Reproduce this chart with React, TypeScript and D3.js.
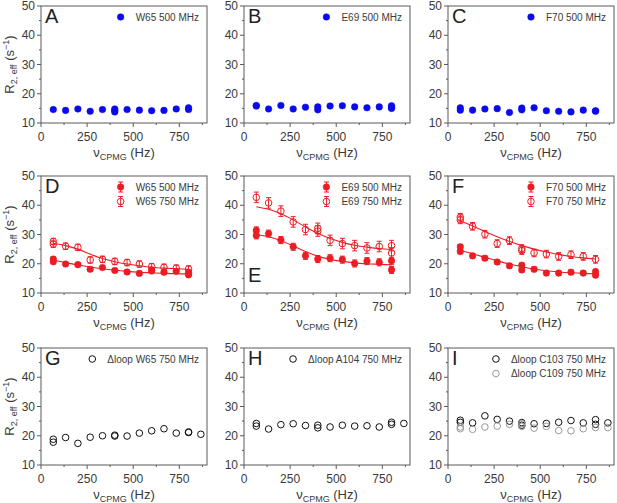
import React, { useEffect, useRef } from 'react';
import * as d3 from 'd3';

// CPMG frequencies (Hz)
const NU = [66.7, 133.3, 200, 266.7, 333.3, 400, 466.7, 533.3, 600, 666.7, 733.3, 800];
const NU_LOOP = [...NU, 866.7];

// repeated measurements are given as arrays
type Val = number | number[];

// top row, 500 MHz blue
const A_W65: Val[] = [14.6, 14.3, 14.8, 14.0, 14.6, [14.8, 13.8, 14.3], 14.6, 14.4, 14.2, 14.3, 14.8, [15.2, 14.6]];
const B_E69: Val[] = [[16.0, 15.8], 14.8, 16.0, 14.8, 15.4, [15.5, 14.5], 15.8, 15.9, 15.5, 15.2, 15.5, [15.9, 15.0, 15.4]];
const C_F70: Val[] = [[15.2, 14.4], 14.4, 14.8, 14.9, 13.6, [15.1, 14.5], 15.2, 14.2, 14.0, 13.8, 14.4, [14.0, 14.2]];

// middle row, red
const D_W65_500: Val[] = [[21.6, 20.7], 19.9, 19.7, 18.1, 18.7, 17.7, 17.2, 16.7, [17.9, 17.5], 17.1, 17.4, [17.1, 16.2, 16.6]];
const D_W65_750: Val[] = [[27.6, 26.7], 26.0, 25.6, 21.3, 21.5, 20.8, 20.4, 19.9, 19.0, 18.8, 18.5, 18.2];
const E_E69_500: Val[] = [[31.4, 29.7], 30.3, 28.1, 25.8, 22.7, 21.6, 21.9, 21.4, 20.1, 20.9, 20.5, [21.0, 17.9]];
const E_E69_750: Val[] = [42.7, 40.8, 38.0, 34.3, 31.7, [32.1, 31.2], 28.0, 26.9, 26.2, 25.4, 25.9, [26.2, 23.7]];
const F_F70_500: Val[] = [[25.8, 24.2], 22.7, 21.9, 20.6, 19.3, [19.5, 17.9], 18.1, 16.8, 16.8, 17.1, 16.8, [17.3, 16.1]];
const F_F70_750: Val[] = [[35.9, 35.0], 32.8, 30.1, 26.9, 27.9, [25.2, 24.5], 23.7, 23.3, 22.5, 23.1, 22.5, 21.5];

// fitted dispersion curves, read at NU
const D_FIT_500 = [21.2, 20.4, 19.6, 18.9, 18.3, 17.8, 17.4, 17.1, 16.9, 16.7, 16.6, 16.5];
const D_FIT_750 = [27.0, 26.2, 25.0, 23.3, 21.8, 20.7, 19.9, 19.3, 18.8, 18.5, 18.3, 18.1];
const E_FIT_500 = [30.0, 29.2, 27.9, 26.1, 24.2, 22.6, 21.5, 20.8, 20.3, 20.0, 19.8, 19.6];
const E_FIT_750 = [39.5, 38.6, 37.1, 35.0, 32.6, 30.4, 28.6, 27.3, 26.3, 25.7, 25.2, 24.9];
const F_FIT_500 = [24.5, 23.4, 22.2, 21.0, 19.9, 19.0, 18.2, 17.6, 17.2, 16.9, 16.7, 16.6];
const F_FIT_750 = [34.6, 32.9, 31.0, 29.2, 27.6, 26.2, 25.0, 24.0, 23.2, 22.5, 22.0, 21.6];

// error bar half-widths per series (s^-1)
const ERR_500 = [0.7, 1.2, 0.8];
const ERR_750 = [1.1, 1.8, 1.3];

// bottom row, delta-loop 750 MHz
const G_W65: Val[] = [[18.8, 17.8], 19.4, 17.4, 19.5, 20.0, [20.2, 19.9], 19.9, 20.9, 21.7, 22.4, 20.9, [21.3, 21.1], 20.5];
const H_A104: Val[] = [[24.2, 23.3], 22.3, 23.8, 24.1, 23.5, [23.6, 22.7], 23.0, 23.6, 23.3, 23.4, 23.0, [24.6, 23.9], 24.2];
const I_C103: Val[] = [[25.3, 24.6], 24.4, 26.8, 25.6, 25.0, [24.5, 23.6], 24.1, 24.2, 24.6, 25.2, 24.4, [25.5, 23.9], 24.4];
const I_C109: Val[] = [[23.0, 22.4], 22.2, 23.0, 23.3, 23.9, [24.1, 23.2], 22.6, 23.2, 21.8, 21.7, 22.4, 22.8, 22.8];

const X_TICKS = [0, 250, 500, 750];
const Y_TICKS = [10, 20, 30, 40, 50];

const BLUE = '#0a0aeb';
const RED = '#ec1c24';
const BLACK = '#111';
const GRAY = '#999';
const TEXT = '#3a3a3a';
const FRAME = '#5a5a5a';
const FONT = '"Liberation Sans", Arial, Helvetica, sans-serif';

type Series = {
  label: string;
  xs: number[];
  ys: Val[];
  color: string;
  filled: boolean;
  err?: number;
  fit?: number[];
};

type Panel = { letter: string; letterBottom?: boolean; series: Series[] };

const PANELS: Panel[] = [
  { letter: 'A', series: [{ label: 'W65 500 MHz', xs: NU, ys: A_W65, color: BLUE, filled: true }] },
  { letter: 'B', series: [{ label: 'E69 500 MHz', xs: NU, ys: B_E69, color: BLUE, filled: true }] },
  { letter: 'C', series: [{ label: 'F70 500 MHz', xs: NU, ys: C_F70, color: BLUE, filled: true }] },
  {
    letter: 'D',
    series: [
      { label: 'W65 500 MHz', xs: NU, ys: D_W65_500, color: RED, filled: true, err: ERR_500[0], fit: D_FIT_500 },
      { label: 'W65 750 MHz', xs: NU, ys: D_W65_750, color: RED, filled: false, err: ERR_750[0], fit: D_FIT_750 },
    ],
  },
  {
    letter: 'E',
    letterBottom: true,
    series: [
      { label: 'E69 500 MHz', xs: NU, ys: E_E69_500, color: RED, filled: true, err: ERR_500[1], fit: E_FIT_500 },
      { label: 'E69 750 MHz', xs: NU, ys: E_E69_750, color: RED, filled: false, err: ERR_750[1], fit: E_FIT_750 },
    ],
  },
  {
    letter: 'F',
    series: [
      { label: 'F70 500 MHz', xs: NU, ys: F_F70_500, color: RED, filled: true, err: ERR_500[2], fit: F_FIT_500 },
      { label: 'F70 750 MHz', xs: NU, ys: F_F70_750, color: RED, filled: false, err: ERR_750[2], fit: F_FIT_750 },
    ],
  },
  { letter: 'G', series: [{ label: '\u0394loop W65 750 MHz', xs: NU_LOOP, ys: G_W65, color: BLACK, filled: false }] },
  { letter: 'H', series: [{ label: '\u0394loop A104 750 MHz', xs: NU_LOOP, ys: H_A104, color: BLACK, filled: false }] },
  {
    letter: 'I',
    series: [
      { label: '\u0394loop C103 750 MHz', xs: NU_LOOP, ys: I_C103, color: BLACK, filled: false },
      { label: '\u0394loop C109 750 MHz', xs: NU_LOOP, ys: I_C109, color: GRAY, filled: false },
    ],
  },
];

const COL_LEFT = [41, 244, 448];
const ROW_TOP = [6, 176, 348];
const PW = 166;
const PH = 117;
const R = 3.3;

const App: React.FC = () => {
  const svgRef = useRef<SVGSVGElement>(null);

  useEffect(() => {
    if (!svgRef.current) return;
    const svg = d3.select(svgRef.current);
    svg.selectAll('*').remove();

    const x = d3.scaleLinear().domain([0, 900]).range([0, PW]);
    const y = d3.scaleLinear().domain([10, 50]).range([PH, 0]);

    PANELS.forEach((p, i) => {
      const col = i % 3;
      const row = Math.floor(i / 3);
      const g = svg.append('g').attr('transform', `translate(${COL_LEFT[col]},${ROW_TOP[row]})`);

      // fit curves
      p.series.forEach((s) => {
        if (!s.fit) return;
        const line = d3
          .line<number>()
          .x((_, k) => x(s.xs[k]))
          .y((d) => y(d))
          .curve(d3.curveMonotoneX);
        g.append('path').attr('d', line(s.fit)).attr('fill', 'none').attr('stroke', s.color).attr('stroke-width', 1.1);
      });

      // points
      p.series.forEach((s) => {
        const pts: [number, number][] = [];
        s.xs.forEach((xv, k) => {
          const v = s.ys[k];
          (Array.isArray(v) ? v : [v]).forEach((yv) => pts.push([xv, yv]));
        });
        if (s.err) {
          const e = s.err;
          const eb = g.append('g').attr('stroke', s.color).attr('stroke-width', 1);
          pts.forEach(([xv, yv]) => {
            const cx = x(xv);
            eb.append('line').attr('x1', cx).attr('x2', cx).attr('y1', y(yv - e)).attr('y2', y(yv + e));
            [yv - e, yv + e].forEach((t) =>
              eb.append('line').attr('x1', cx - 2.5).attr('x2', cx + 2.5).attr('y1', y(t)).attr('y2', y(t))
            );
          });
        }
        g.append('g')
          .selectAll('circle')
          .data(pts)
          .join('circle')
          .attr('cx', (d) => x(d[0]))
          .attr('cy', (d) => y(d[1]))
          .attr('r', R)
          .attr('fill', s.filled ? s.color : 'white')
          .attr('fill-opacity', s.filled ? 1 : 0)
          .attr('stroke', s.color)
          .attr('stroke-width', s.filled ? 0.5 : 1);
      });

      // frame
      g.append('rect')
        .attr('width', PW)
        .attr('height', PH)
        .attr('fill', 'none')
        .attr('stroke', FRAME)
        .attr('stroke-width', 1);

      // x ticks
      const xt = g.append('g').attr('stroke', FRAME).attr('stroke-width', 1);
      d3.range(0, 901, 125).forEach((t) => {
        const major = X_TICKS.includes(t);
        xt.append('line').attr('x1', x(t)).attr('x2', x(t)).attr('y1', PH).attr('y2', PH + (major ? 4 : 2));
      });
      X_TICKS.forEach((t) =>
        g.append('text')
          .attr('x', x(t))
          .attr('y', PH + 18)
          .attr('text-anchor', 'middle')
          .attr('font-family', FONT)
          .attr('font-size', 12)
          .attr('fill', TEXT)
          .text(t)
      );

      // y ticks
      const yt = g.append('g').attr('stroke', FRAME).attr('stroke-width', 1);
      d3.range(10, 51, 5).forEach((t) => {
        const major = Y_TICKS.includes(t);
        yt.append('line').attr('x1', 0).attr('x2', major ? -4 : -2).attr('y1', y(t)).attr('y2', y(t));
      });
      Y_TICKS.forEach((t) =>
        g.append('text')
          .attr('x', -6)
          .attr('y', y(t) + 4.2)
          .attr('text-anchor', 'end')
          .attr('font-family', FONT)
          .attr('font-size', 12)
          .attr('fill', TEXT)
          .text(t)
      );

      // x label
      const xl = g.append('text')
        .attr('x', PW / 2)
        .attr('y', PH + 34)
        .attr('text-anchor', 'middle')
        .attr('font-family', FONT)
        .attr('font-size', 13)
        .attr('fill', TEXT);
      xl.append('tspan').text('\u03bd');
      xl.append('tspan').attr('font-size', 9).attr('dy', 2.5).text('CPMG');
      xl.append('tspan').attr('dy', -2.5).text(' (Hz)');

      // y label, left column only
      if (col === 0) {
        const yl = g.append('text')
          .attr('transform', `translate(${-COL_LEFT[0] + 14},${PH / 2}) rotate(-90)`)
          .attr('text-anchor', 'middle')
          .attr('font-family', FONT)
          .attr('font-size', 13)
          .attr('fill', TEXT);
        yl.append('tspan').text('R');
        yl.append('tspan').attr('font-size', 9).attr('dy', 3).text('2, eff');
        yl.append('tspan').attr('dy', -3).text(' (s');
        yl.append('tspan').attr('font-size', 9).attr('dy', -5).text('\u22121');
        yl.append('tspan').attr('dy', 5).text(')');
      }

      // panel letter
      g.append('text')
        .attr('x', 4)
        .attr('y', p.letterBottom ? PH - 11 : 17)
        .attr('font-family', FONT)
        .attr('font-size', 20)
        .attr('fill', '#222')
        .text(p.letter);

      // legend
      const lg = g.append('g');
      p.series.forEach((s, k) => {
        const ly = 11 + k * 14.5;
        const t = lg.append('text')
          .attr('x', PW - 8)
          .attr('y', ly + 3.5)
          .attr('text-anchor', 'end')
          .attr('font-family', FONT)
          .attr('font-size', 10)
          .attr('fill', TEXT)
          .text(s.label);
        const w = (t.node() as SVGTextElement).getComputedTextLength();
        const cx = PW - 8 - w - 15;
        if (s.err) {
          lg.append('line').attr('x1', cx).attr('x2', cx).attr('y1', ly - 5).attr('y2', ly + 5).attr('stroke', s.color);
          [ly - 5, ly + 5].forEach((yy) =>
            lg.append('line').attr('x1', cx - 2.5).attr('x2', cx + 2.5).attr('y1', yy).attr('y2', yy).attr('stroke', s.color)
          );
        }
        lg.append('circle')
          .attr('cx', cx)
          .attr('cy', ly)
          .attr('r', R)
          .attr('fill', s.filled ? s.color : 'white')
          .attr('fill-opacity', s.filled ? 1 : 0)
          .attr('stroke', s.color)
          .attr('stroke-width', s.filled ? 0.5 : 1);
      });
    });
  }, []);

  return (
    <svg
      ref={svgRef}
      width={617}
      height={503}
      style={{ position: 'absolute', left: 0, top: 0, background: 'white' }}
    />
  );
};

export default App;
